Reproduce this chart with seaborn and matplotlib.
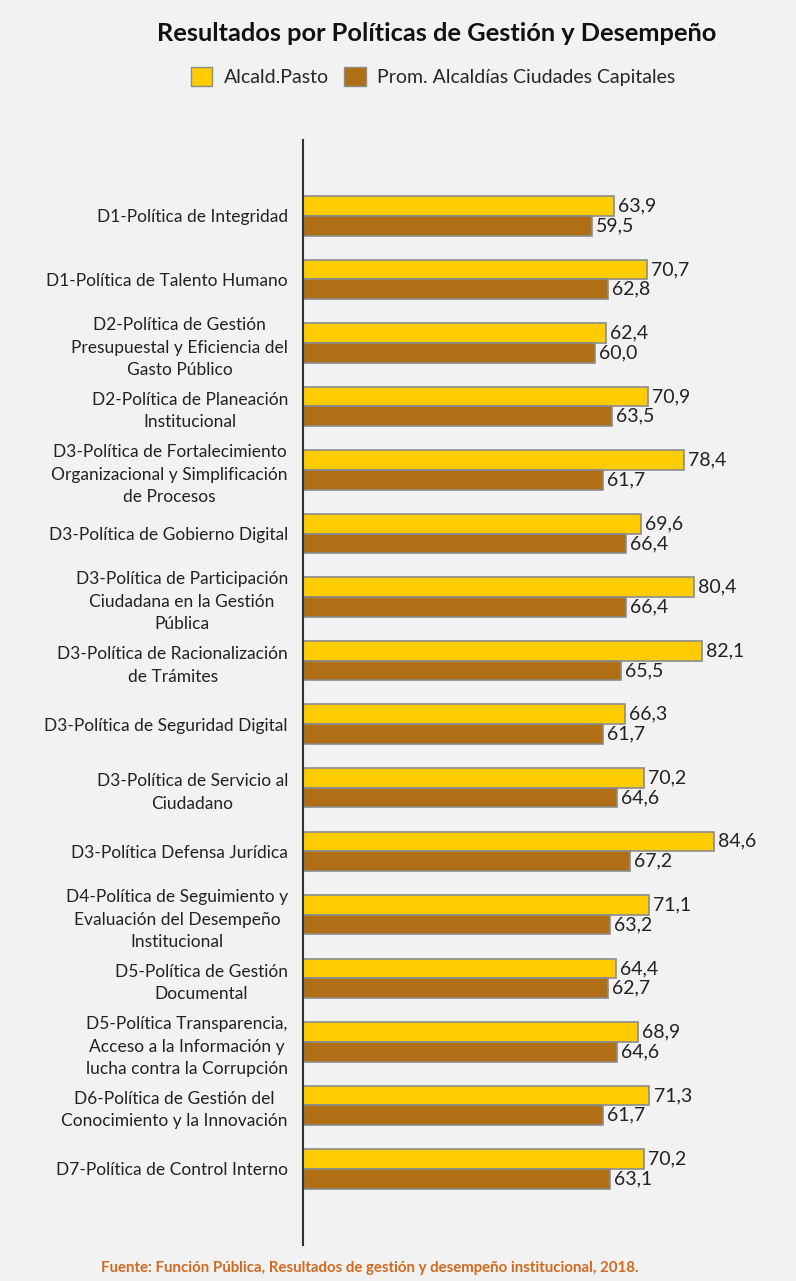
import pandas as pd
import numpy as np
import seaborn as sns
import matplotlib.pyplot as plt
from matplotlib.patches import Patch

# datos
politicas = [
    'D1-Política de Integridad',
    'D1-Política de Talento Humano',
    'D2-Política de Gestión\nPresupuestal y Eficiencia del\nGasto Público',
    'D2-Política de Planeación\nInstitucional',
    'D3-Política de Fortalecimiento\nOrganizacional y Simplificación\nde Procesos',
    'D3-Política de Gobierno Digital',
    'D3-Política de Participación\nCiudadana en la Gestión\nPública',
    'D3-Política de Racionalización\nde Trámites',
    'D3-Política de Seguridad Digital',
    'D3-Política de Servicio al\nCiudadano',
    'D3-Política Defensa Jurídica',
    'D4-Política de Seguimiento y\nEvaluación del Desempeño\nInstitucional',
    'D5-Política de Gestión\nDocumental',
    'D5-Política Transparencia,\nAcceso a la Información y\nlucha contra la Corrupción',
    'D6-Política de Gestión del\nConocimiento y la Innovación',
    'D7-Política de Control Interno',
]
pasto = [63.9, 70.7, 62.4, 70.9, 78.4, 69.6, 80.4, 82.1, 66.3, 70.2, 84.6, 71.1, 64.4, 68.9, 71.3, 70.2]
capitales = [59.5, 62.8, 60.0, 63.5, 61.7, 66.4, 66.4, 65.5, 61.7, 64.6, 67.2, 63.2, 62.7, 64.6, 61.7, 63.1]
series = ['Alcald.Pasto', 'Prom. Alcaldías Ciudades Capitales']
colores = ['#FFCC00', '#B06F14']

df = pd.DataFrame({
    'politica': politicas * 2,
    'valor': pasto + capitales,
    'serie': [series[0]] * len(politicas) + [series[1]] * len(politicas),
})

sns.set_style('white')
plt.rcParams['font.family'] = ['Lato', 'DejaVu Sans']
fondo = '#F2F2F2'

fig = plt.figure(figsize=(7.96, 12.81), dpi=100, facecolor=fondo)
ax = fig.add_axes([0.381, 0.028, 0.61, 0.863])
ax.set_facecolor(fondo)

sns.barplot(data=df, y='politica', x='valor', hue='serie', order=politicas,
            hue_order=series, palette=colores, saturation=1, orient='h', width=0.62,
            edgecolor='#8C8C8C', linewidth=1.2, ax=ax, legend=False)

# etiquetas de valor con coma decimal
for cont in ax.containers:
    ax.bar_label(cont, labels=[f'{v:.1f}'.replace('.', ',') for v in cont.datavalues],
                 padding=3, fontsize=14, color='#222222')

ax.set_xlim(0, 100)
ax.set_ylim(16.2, -1.2)
ax.set_xlabel('')
ax.set_ylabel('')
ax.set_xticks([])
for s in ['top', 'right', 'bottom']:
    ax.spines[s].set_visible(False)
ax.spines['left'].set_color('#333333')
ax.spines['left'].set_linewidth(1.5)
ax.tick_params(axis='y', length=4, width=1.2, color='#333333', pad=7, labelsize=12.5)
for t in ax.get_yticklabels():
    t.set_multialignment('center')
    t.set_linespacing(1.5)
    t.set_color('#222222')

fig.text(0.548, 0.974, 'Resultados por Políticas de Gestión y Desempeño',
         ha='center', va='center', fontsize=18.3, fontweight='bold', color='#111111')

# leyenda
handles = [Patch(facecolor=c, edgecolor='#8C8C8C', label=s) for c, s in zip(colores, series)]
fig.legend(handles=handles, loc='center', bbox_to_anchor=(0.544, 0.94), ncol=2,
           frameon=False, fontsize=14, handlelength=1.1, handleheight=1.1,
           columnspacing=0.8, handletextpad=0.6)

fig.text(0.465, 0.010, 'Fuente: Función Pública, Resultados de gestión y desempeño institucional, 2018.',
         ha='center', va='center', fontsize=10.8, fontweight='bold', color='#D2691E')

fig.savefig('out.png', dpi=100, facecolor=fondo)
